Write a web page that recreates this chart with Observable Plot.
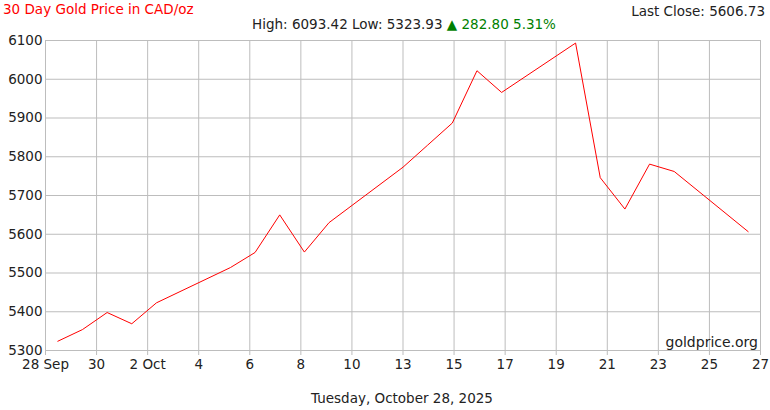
<!DOCTYPE html>
<html>
<head>
<meta charset="utf-8">
<script src="https://cdn.jsdelivr.net/npm/d3@7"></script>
<script src="https://cdn.jsdelivr.net/npm/@observablehq/plot@0.6"></script>
<style>
  html, body { margin: 0; padding: 0; background: #fff; }
  #wrap { position: relative; width: 770px; height: 410px; font-family: "DejaVu Sans", Verdana, sans-serif; color: #222; }
  .t { position: absolute; white-space: nowrap; font-size: 13.5px; line-height: 1; }
  #chart { position: absolute; left: 0; top: 0; }
</style>
</head>
<body>
<div id="wrap">
  <div id="chart"></div>
  <div class="t" id="title" style="left:3px; top:3px; color:#f00;"></div>
  <div class="t" id="last" style="right:5px; top:5px;"></div>
  <div class="t" id="stats" style="left:0; width:808px; text-align:center; top:18px;"></div>
  <div class="t" id="brand" style="right:12px; top:335px; font-size:14px;"></div>
  <div class="t" id="foot" style="left:0; width:804px; text-align:center; top:392px;"></div>
</div>
<script>
// ---- data ----
const dates = [
  "2025-09-28T12:00", "2025-09-29T12:00", "2025-09-30T12:00", "2025-10-01T12:00", "2025-10-02T12:00",
  "2025-10-05T12:00", "2025-10-06T12:00", "2025-10-07T12:00", "2025-10-08T12:00", "2025-10-09T12:00",
  "2025-10-12T12:00", "2025-10-13T12:00", "2025-10-14T12:00", "2025-10-15T12:00", "2025-10-16T12:00",
  "2025-10-19T12:00", "2025-10-20T12:00", "2025-10-21T12:00", "2025-10-22T12:00", "2025-10-23T12:00",
  "2025-10-26T12:00"
];
const prices = [
  5323.93, 5354, 5398, 5369, 5423,
  5514, 5553, 5650, 5554, 5630,
  5773, 5830, 5887, 6022, 5966,
  6093.42, 5746, 5665, 5781, 5762,
  5606.73
];
const xLabels = ["28 Sep", "30", "2 Oct", "4", "6", "8", "10", "13", "15", "17", "19", "21", "23", "25", "27"];
const yTicks = [5300, 5400, 5500, 5600, 5700, 5800, 5900, 6000, 6100];
const xStart = "2025-09-28T00:00";
const xEnd = "2025-10-27T00:00";

const titleText = "30 Day Gold Price in CAD/oz";
const lastClose = 5606.73;
const high = 6093.42;
const low = 5323.93;
const brandText = "goldprice.org";
const footText = "Tuesday, October 28, 2025";

// ---- build ----
const data = dates.map((d, i) => ({date: new Date(d), price: prices[i]}));
const t0 = new Date(xStart).getTime();
const t1 = new Date(xEnd).getTime();
const xTicks = xLabels.map((_, i) => new Date(t0 + (t1 - t0) * i / (xLabels.length - 1)));
const labelMap = new Map(xTicks.map((d, i) => [d.getTime(), xLabels[i]]));

const gridColor = "#bdbdbd";

const chart = Plot.plot({
  width: 770,
  height: 410,
  marginLeft: 45,
  marginRight: 10,
  marginTop: 40,
  marginBottom: 60,
  style: {fontFamily: "DejaVu Sans, Verdana, sans-serif", fontSize: "13.5px", color: "#222", background: "#fff", overflow: "visible"},
  x: {type: "time", domain: [new Date(t0), new Date(t1)]},
  y: {domain: [5300, 6100]},
  marks: [
    Plot.gridX(xTicks, {stroke: gridColor, strokeOpacity: 1}),
    Plot.gridY(yTicks, {stroke: gridColor, strokeOpacity: 1}),
    Plot.ruleX([new Date(t0)], {stroke: gridColor}),
    Plot.axisY({ticks: yTicks, tickSize: 0, tickPadding: 3, label: null, fontSize: 13.5, fill: "#222",
      tickFormat: d => String(d)}),
    Plot.axisX({ticks: xTicks, tickSize: 5, tickPadding: 4, label: null, fontSize: 13.5, stroke: gridColor, fill: "#222",
      tickFormat: d => labelMap.get(d.getTime())}),
    Plot.line(data, {x: "date", y: "price", stroke: "#ff0000", strokeWidth: 1})
  ]
});
document.getElementById("chart").appendChild(chart);

const change = lastClose - low;
const pct = change / low * 100;
document.getElementById("title").textContent = titleText;
document.getElementById("last").textContent = "Last Close: " + lastClose.toFixed(2);
document.getElementById("stats").innerHTML =
  "High: " + high.toFixed(2) + " Low: " + low.toFixed(2) +
  ' <span style="color:#008000">\u25B2 ' + change.toFixed(2) + " " + pct.toFixed(2) + "%</span>";
document.getElementById("brand").textContent = brandText;
document.getElementById("foot").textContent = footText;
</script>
</body>
</html>
